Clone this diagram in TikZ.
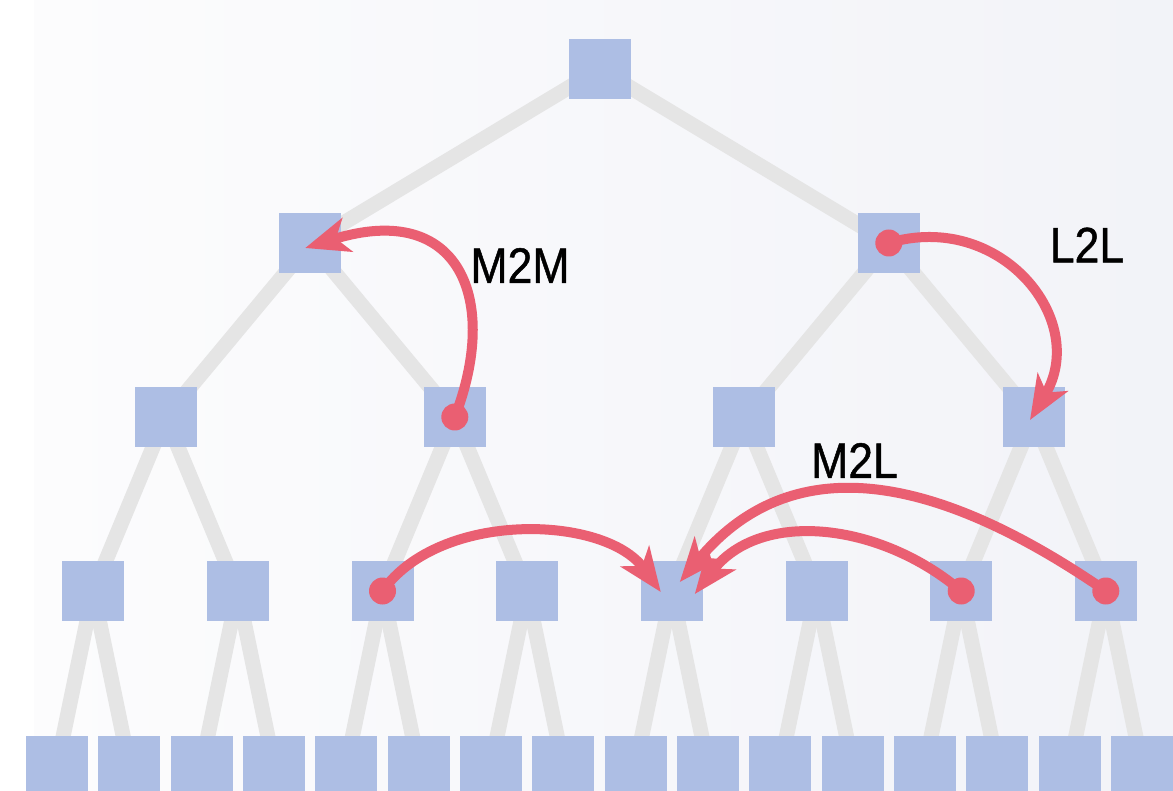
\documentclass[tikz,border=0pt]{standalone}
\usepackage{fontspec}
\setmainfont{Liberation Sans}
\newfontfamily\lblfont[FakeBold=1]{Liberation Sans}
\usetikzlibrary{arrows.meta,calc}
\definecolor{boxc}{HTML}{ADBEE4}
\definecolor{edgec}{HTML}{E5E5E5}
\definecolor{redc}{HTML}{EA5F72}
\definecolor{bgl}{HTML}{FCFCFD}
\definecolor{bgr}{HTML}{F2F3F8}
\pgfdeclarelayer{bglayer}
\pgfdeclarelayer{edgelayer}
\pgfsetlayers{bglayer,edgelayer,main}
\begin{document}
\begin{tikzpicture}[x=1pt,y=-1pt,
  box/.style={fill=boxc, minimum width=62pt, minimum height=60pt, inner sep=0pt},
  tree/.style={draw=edgec, line width=15pt},
  flow/.style={draw=redc, line width=10pt, -{Stealth[length=44pt,width=35pt,inset=12pt]}},
  dotc/.style={fill=redc, circle, inner sep=0pt, minimum size=27pt},
  lbl/.style={font=\lblfont\fontsize{50}{50}\selectfont, text=black, inner sep=0pt}]
\useasboundingbox (0,0) rectangle (1173,791);
% nodes
\node[box] (r) at (599.5,69) {};
\node[box] (a1) at (310.2,243) {};
\node[box] (a2) at (888.8,243) {};
\node[box] (b1) at (165.5,417) {};
\node[box] (b2) at (454.8,417) {};
\node[box] (b3) at (744.2,417) {};
\node[box] (b4) at (1033.5,417) {};
\foreach \i/\x in {1/93.2,2/237.8,3/382.5,4/527.2,5/671.8,6/816.5,7/961.2,8/1105.8}
  \node[box] (c\i) at (\x,591) {};
\foreach \i in {1,...,16}
  \node[box] (d\i) at ({57+72.33*(\i-1)},766) {};
% background
\begin{pgfonlayer}{bglayer}
\fill[white] (0,0) rectangle (1173,791);
\shade[left color=bgl, right color=bgr] (34,0) rectangle (1173,791);
\end{pgfonlayer}
% tree edges
\begin{pgfonlayer}{edgelayer}
\draw[tree] (r.center) -- (a1.center);
\draw[tree] (r.center) -- (a2.center);
\draw[tree] (a1.center) -- (b1.center);
\draw[tree] (a1.center) -- (b2.center);
\draw[tree] (a2.center) -- (b3.center);
\draw[tree] (a2.center) -- (b4.center);
\foreach \p/\c in {1/1,1/2,2/3,2/4,3/5,3/6,4/7,4/8}
  \draw[tree] (b\p.center) -- (c\c.center);
\foreach \p in {1,...,8}{
  \pgfmathtruncatemacro{\l}{2*\p-1}
  \pgfmathtruncatemacro{\rr}{2*\p}
  \draw[tree] (c\p.center) -- (d\l.center);
  \draw[tree] (c\p.center) -- (d\rr.center);
}
\end{pgfonlayer}
% labels
\node[lbl] (t1) at (520,265.5) {\scalebox{0.89}[1]{M2M}};
\node[lbl] (t2) at (1087,245) {\scalebox{0.89}[1]{L2L}};
\node[lbl] (t3) at (854.5,460.5) {\scalebox{0.89}[1]{M2L}};
% operator arrows
\draw[flow] (b2.center) .. controls (500,300) and (460,200) .. ($(a1.center)+(-5,5)$);
\draw[flow] (a2.center) .. controls (1000,210) and (1090,320) .. ($(b4.center)+(-3.5,3)$);
\draw[flow] (c3.center) .. controls (440,510) and (605,515) .. ($(c5.center)+(-11,1)$);
\draw[flow] (c8.center) .. controls (930,470) and (790,450) .. ($(c5.center)+(8,-9)$);
\draw[flow] (c7.center) .. controls (880,522) and (760,509) .. ($(c5.center)+(23,3)$);
\node[dotc] (s1) at (b2.center) {};
\node[dotc] (s2) at (a2.center) {};
\node[dotc] (s3) at (c3.center) {};
\node[dotc] (s4) at (c8.center) {};
\node[dotc] (s5) at (c7.center) {};
\end{tikzpicture}
\end{document}
